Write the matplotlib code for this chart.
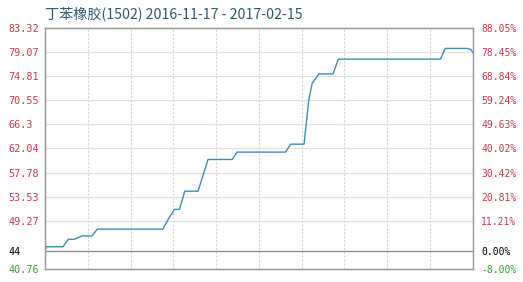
import matplotlib.pyplot as plt
import numpy as np

plt.rcParams['font.family'] = ['Noto Sans CJK SC', 'DejaVu Sans']

# days since 2016-11-17 and price
days = [0, 0.3, 3.8, 4.9, 6.1, 7.8, 9.9, 11.0, 24.8, 26.1, 27.3, 28.3, 29.4,
        32.2, 34.3, 39.4, 40.4, 50.6, 51.7, 54.5, 55.5, 56.2, 57.6, 60.6,
        61.7, 83.2, 84.2, 88.8, 89.6, 90]
prices = [44.0, 44.7, 44.7, 46.0, 46.0, 46.6, 46.6, 47.8, 47.8, 49.8, 51.3,
          51.3, 54.5, 54.5, 60.1, 60.1, 61.4, 61.4, 62.8, 62.8, 70.6, 73.5,
          75.2, 75.2, 77.8, 77.8, 79.7, 79.7, 79.5, 79.0]

left_ticks = [83.32, 79.07, 74.81, 70.55, 66.3, 62.04, 57.78, 53.53, 49.27, 44, 40.76]
left_labels = ['83.32', '79.07', '74.81', '70.55', '66.3', '62.04', '57.78',
               '53.53', '49.27', '44', '40.76']
right_labels = ['88.05%', '78.45%', '68.84%', '59.24%', '49.63%', '40.02%',
                '30.42%', '20.81%', '11.21%', '0.00%', '-8.00%']
title = '丁苯橡胶(1502) 2016-11-17 - 2017-02-15'

red = '#c43c4c'
green = '#3c9a3c'

fig = plt.figure(figsize=(5.23, 2.82), dpi=100)
ax = fig.add_axes([0.086, 0.046, 0.818, 0.855])

ax.set_xlim(0, 90)
ax.set_ylim(40.76, 83.32)

# grid
for x in np.linspace(0, 90, 11)[1:-1]:
    ax.axvline(x, color='#d4d4d4', lw=0.8, ls=(0, (2, 1.5)), zorder=0)
for y in left_ticks:
    ax.axhline(y, color='#e0e0e0', lw=0.9, zorder=0)
ax.axhline(44, color='#8c8c8c', lw=0.9, zorder=1)

ax.plot(days, prices, color='#3d8db5', lw=1.0, zorder=3)


def color_labels(a):
    for lab, v in zip(a.get_yticklabels(), left_ticks):
        if v == 44:
            lab.set_color('black')
        elif v < 44:
            lab.set_color(green)
        else:
            lab.set_color(red)


ax.set_xticks([])
ax.set_yticks(left_ticks)
ax.set_yticklabels(left_labels, fontsize=7.3, family=['DejaVu Sans Mono'], ha='left')
ax.tick_params(axis='y', length=0, pad=26.5)
color_labels(ax)

ax2 = ax.twinx()
ax2.set_ylim(40.76, 83.32)
ax2.set_yticks(left_ticks)
ax2.set_yticklabels(right_labels, fontsize=7.0, family=['DejaVu Sans Mono'])
ax2.tick_params(axis='y', length=0, pad=6)
color_labels(ax2)

for a in (ax, ax2):
    for s in a.spines.values():
        s.set_color('#999999')
        s.set_linewidth(0.9)

fig.text(0.086, 0.952, title, fontsize=10.2, color='#2e5a6e', va='center', ha='left')

fig.savefig('out.png', dpi=100)
